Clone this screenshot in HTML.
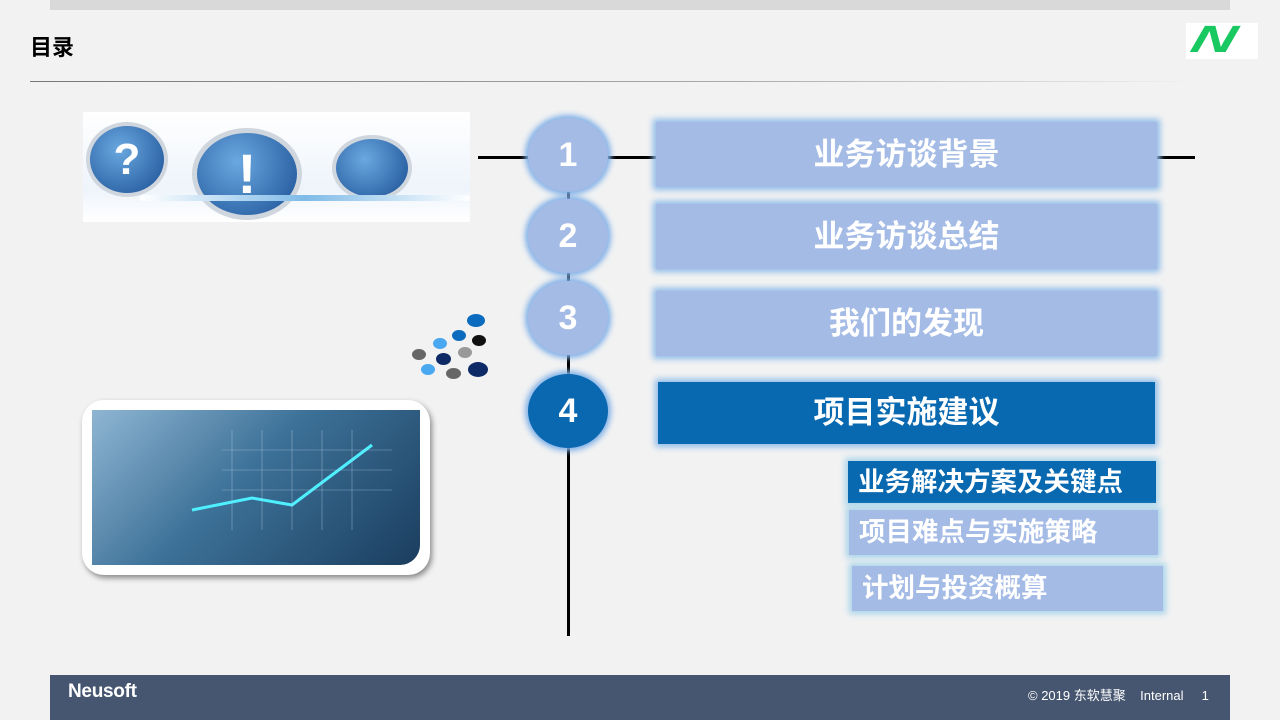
<!DOCTYPE html>
<html><head><meta charset="utf-8"><style>
*{margin:0;padding:0;box-sizing:border-box}
body{width:1280px;height:720px;background:#f2f2f2;position:relative;overflow:hidden;font-family:"Liberation Sans","Noto Sans CJK SC",sans-serif}
.a{position:absolute}
.circ{position:absolute;width:80px;height:74px;border-radius:50%;background:#a4bbe6;box-shadow:0 0 6px 3px #7fb0e8;color:#fff;font-weight:bold;font-size:34px;text-align:center;line-height:74px}
.box{position:absolute;background:#a4bbe6;box-shadow:0 0 6px 3px #8fbce9;color:#fff;font-weight:bold;font-size:31px;text-align:center;letter-spacing:0}
.sub{position:absolute;background:#a4bbe6;box-shadow:0 0 6px 3px #a8d4ea;color:#fff;font-weight:bold;font-size:26.5px;padding-left:10px}
.dot{position:absolute;border-radius:50%}
</style></head><body>
<div class="a" style="left:50px;top:0;width:1180px;height:10px;background:#d9d9d9"></div>
<div class="a" style="left:30px;top:30px;font-size:22px;font-weight:bold;color:#000">目录</div>
<div class="a" style="left:30px;top:81px;width:1170px;height:1px;background:linear-gradient(90deg,#777,#aaa 60%,#f2f2f2)"></div>
<div class="a" style="left:1186px;top:23px;width:72px;height:36px;background:#fff"></div>
<div class="a" style="left:1192px;top:20px;font-size:38px;font-weight:bold;font-style:italic;color:#18c860;line-height:40px;transform:skewX(-15deg) scaleX(1.6);transform-origin:left">N</div>

<div class="a" style="left:83px;top:112px;width:387px;height:110px;background:linear-gradient(180deg,#fff,#eef4fb 70%,#fff)"></div>
<div class="a" style="left:86px;top:122px;width:82px;height:75px;border-radius:50%;background:radial-gradient(circle at 40% 35%,#6aa8e0,#1a4f94);border:4px solid #cfd6de;color:#fff;font-size:44px;font-weight:bold;text-align:center;line-height:67px">?</div>
<div class="a" style="left:192px;top:128px;width:110px;height:92px;border-radius:50%;background:radial-gradient(circle at 40% 35%,#6aa8e0,#1a4f94);border:5px solid #cfd6de;color:#fff;font-size:56px;font-weight:bold;text-align:center;line-height:82px">!</div>
<div class="a" style="left:332px;top:135px;width:80px;height:66px;border-radius:50%;background:radial-gradient(circle at 40% 35%,#6aa8e0,#1a4f94);border:4px solid #cfd6de"></div>
<div class="a" style="left:140px;top:195px;width:330px;height:6px;background:linear-gradient(90deg,#fff,#7fbbe8,#fff);border-radius:3px"></div>

<div class="a" style="left:82px;top:400px;width:348px;height:175px;background:#fff;border-radius:22px;box-shadow:2px 3px 6px #888"></div>
<div class="a" style="left:92px;top:410px;width:328px;height:155px;border-radius:0 0 20px 0;background:linear-gradient(135deg,#8fb6d3 0%,#3d7198 45%,#1a3d5e 100%)"></div>
<svg class="a" style="left:92px;top:410px" width="328" height="155"><polyline points="100,100 160,88 200,95 240,65 280,35" stroke="#4ef0ff" stroke-width="3" fill="none"/><g stroke="#b8d4ea" stroke-width="0.6" opacity="0.6"><path d="M140 20v100M170 20v100M200 20v100M230 20v100M260 20v100M130 40h170M130 60h170M130 80h170"/></g></svg>

<div class="dot" style="left:467px;top:314px;width:18px;height:13px;background:#0b6cbf"></div>
<div class="dot" style="left:452px;top:330px;width:14px;height:11px;background:#0b6cbf"></div>
<div class="dot" style="left:472px;top:335px;width:14px;height:11px;background:#111"></div>
<div class="dot" style="left:433px;top:338px;width:14px;height:11px;background:#4aa8f0"></div>
<div class="dot" style="left:458px;top:347px;width:14px;height:11px;background:#999"></div>
<div class="dot" style="left:412px;top:349px;width:14px;height:11px;background:#666"></div>
<div class="dot" style="left:436px;top:353px;width:15px;height:12px;background:#0d2a66"></div>
<div class="dot" style="left:468px;top:362px;width:20px;height:15px;background:#0d2a66"></div>
<div class="dot" style="left:421px;top:364px;width:14px;height:11px;background:#4aa8f0"></div>
<div class="dot" style="left:446px;top:368px;width:15px;height:11px;background:#666"></div>

<div class="a" style="left:567px;top:150px;width:3px;height:486px;background:#000"></div>
<div class="a" style="left:478px;top:156px;width:180px;height:3px;background:#000"></div>
<div class="a" style="left:1155px;top:156px;width:40px;height:3px;background:#000"></div>

<div class="circ" style="left:528px;top:118px">1</div>
<div class="circ" style="left:528px;top:199px">2</div>
<div class="circ" style="left:528px;top:281px">3</div>
<div class="circ" style="left:528px;top:374px;background:#0a68b0">4</div>

<div class="box" style="left:656px;top:122px;width:501px;height:65px;line-height:65px">业务访谈背景</div>
<div class="box" style="left:656px;top:204px;width:501px;height:65px;line-height:65px">业务访谈总结</div>
<div class="box" style="left:656px;top:291px;width:501px;height:65px;line-height:65px">我们的发现</div>
<div class="box" style="left:658px;top:382px;width:497px;height:62px;line-height:62px;background:#0869b1">项目实施建议</div>

<div class="sub" style="left:848px;top:461px;width:308px;height:42px;line-height:42px;background:#0869b1">业务解决方案及关键点</div>
<div class="sub" style="left:849px;top:510px;width:309px;height:45px;line-height:45px">项目难点与实施策略</div>
<div class="sub" style="left:852px;top:566px;width:311px;height:45px;line-height:45px">计划与投资概算</div>

<div class="a" style="left:50px;top:675px;width:1180px;height:45px;background:#465670"></div>
<div class="a" style="left:68px;top:681px;color:#fff;font-weight:bold;font-size:19px;letter-spacing:-0.3px">Neusoft</div>
<div class="a" style="left:1028px;top:685px;color:#fff;font-size:13px;white-space:pre">© 2019 东软慧聚    Internal     1</div>
</body></html>
